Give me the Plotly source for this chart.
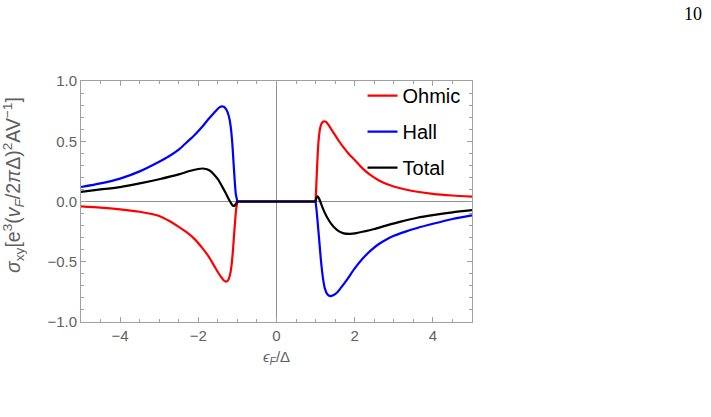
import plotly.graph_objects as go

# Ohmic (red)
ohm_left_x = [-5.0, -4.5, -4.0, -3.5, -3.0, -2.75, -2.5, -2.3, -2.1, -1.9, -1.75, -1.6, -1.5, -1.42, -1.35, -1.29, -1.24, -1.19, -1.15, -1.12, -1.09, -1.06, -1.03, -1.0]
ohm_left_y = [-0.04, -0.05, -0.065, -0.085, -0.12, -0.16, -0.21, -0.255, -0.31, -0.385, -0.45, -0.53, -0.585, -0.625, -0.655, -0.665, -0.655, -0.61, -0.53, -0.43, -0.3, -0.17, -0.06, 0.0]
ohm_right_x = [1.0, 1.02, 1.05, 1.08, 1.12, 1.17, 1.22, 1.27, 1.33, 1.42, 1.5, 1.6, 1.7, 1.85, 2.0, 2.2, 2.4, 2.6, 2.8, 3.0, 3.3, 3.6, 4.0, 4.5, 5.0]
ohm_right_y = [0.0, 0.15, 0.37, 0.52, 0.615, 0.655, 0.665, 0.66, 0.635, 0.59, 0.55, 0.5, 0.455, 0.395, 0.345, 0.275, 0.22, 0.178, 0.147, 0.125, 0.1, 0.081, 0.064, 0.05, 0.04]

# Hall (blue)
hall_left_x = [-5.0, -4.5, -4.0, -3.5, -3.0, -2.75, -2.5, -2.3, -2.1, -1.9, -1.75, -1.6, -1.5, -1.45, -1.4, -1.35, -1.3, -1.25, -1.2, -1.16, -1.13, -1.10, -1.07, -1.04, -1.0]
hall_left_y = [0.12, 0.15, 0.19, 0.25, 0.33, 0.375, 0.43, 0.49, 0.55, 0.62, 0.68, 0.735, 0.77, 0.783, 0.79, 0.787, 0.77, 0.74, 0.68, 0.59, 0.48, 0.33, 0.18, 0.06, 0.0]
hall_right_x = [1.0, 1.03, 1.06, 1.1, 1.14, 1.19, 1.24, 1.3, 1.37, 1.45, 1.55, 1.65, 1.8, 2.0, 2.2, 2.4, 2.6, 2.8, 3.0, 3.3, 3.6, 4.0, 4.5, 5.0]
hall_right_y = [0.0, -0.09, -0.2, -0.35, -0.5, -0.64, -0.725, -0.77, -0.785, -0.778, -0.755, -0.715, -0.65, -0.555, -0.475, -0.41, -0.357, -0.317, -0.285, -0.25, -0.22, -0.185, -0.145, -0.115]

# Total (black)
tot_left_x = [-5.0, -4.5, -4.0, -3.5, -3.0, -2.5, -2.2, -2.0, -1.9, -1.8, -1.7, -1.6, -1.5, -1.4, -1.3, -1.23, -1.17, -1.12, -1.08, -1.04, -1.0]
tot_left_y = [0.08, 0.10, 0.12, 0.15, 0.185, 0.225, 0.255, 0.27, 0.274, 0.27, 0.255, 0.225, 0.185, 0.13, 0.07, 0.025, -0.01, -0.033, -0.036, -0.02, 0.0]
tot_right_x = [1.0, 1.02, 1.05, 1.08, 1.12, 1.17, 1.23, 1.3, 1.4, 1.5, 1.6, 1.72, 1.88, 2.05, 2.25, 2.5, 2.8, 3.2, 3.6, 4.0, 4.5, 5.0]
tot_right_y = [0.0, 0.03, 0.043, 0.03, 0.0, -0.045, -0.09, -0.135, -0.185, -0.222, -0.248, -0.264, -0.268, -0.262, -0.248, -0.228, -0.2, -0.165, -0.135, -0.113, -0.09, -0.072]

# gap segment between -1 and 1 (all curves vanish)
gap_x = [-1.0, 1.0]
gap_y = [0.0, 0.0]

series = [
    ("Ohmic", "#ff0000", ohm_left_x, ohm_left_y, ohm_right_x, ohm_right_y),
    ("Hall", "#0000ff", hall_left_x, hall_left_y, hall_right_x, hall_right_y),
    ("Total", "#000000", tot_left_x, tot_left_y, tot_right_x, tot_right_y),
]

fig = go.Figure()
for name, color, lx, ly, rx, ry in series:
    xs = lx + [None] + gap_x + [None] + rx
    ys = ly + [None] + gap_y + [None] + ry
    fig.add_trace(go.Scatter(
        x=xs, y=ys, mode="lines", name=name, legendgroup=name,
        connectgaps=False,
        line=dict(color=color, width=2.2, shape="spline", smoothing=0.7),
    ))

gray_font = dict(family="Liberation Sans, Arial, sans-serif", size=15, color="#5f5f5f")

axis_common = dict(
    showline=True, linecolor="#a0a0a0", linewidth=1, mirror="ticks",
    ticks="inside", tickcolor="#a0a0a0", ticklen=5, tickwidth=1,
    showgrid=False, zeroline=True, zerolinecolor="#909090", zerolinewidth=1,
    tickfont=gray_font,
)

fig.update_xaxes(
    range=[-5, 5], tickvals=[-4, -2, 0, 2, 4], ticktext=["\u22124", "\u22122", "0", "2", "4"],
    minor=dict(ticks="inside", dtick=0.5, ticklen=3, tickcolor="#a0a0a0", showgrid=False),
    title=dict(text="<i>\u03f5<sub>F</sub></i>/\u0394", standoff=8, font=gray_font),
    **axis_common,
)
fig.update_yaxes(
    range=[-1, 1], tickvals=[-1, -0.5, 0, 0.5, 1], ticktext=["\u22121.0", "\u22120.5", "0.0", "0.5", "1.0"],
    minor=dict(ticks="inside", dtick=0.1, ticklen=3, tickcolor="#a0a0a0", showgrid=False),
    **axis_common,
)

# y-axis title placed as a rotated annotation (sits slightly above axis centre)
fig.add_annotation(
    text="<i>\u03c3</i><sub>xy</sub>[e<sup>3</sup>(<i>v</i><sub><i>F</i></sub>/2<i>\u03c0</i>\u0394)<sup>2</sup>AV<sup>\u22121</sup>]",
    xref="paper", yref="paper", x=(13 - 81) / 391, y=(322 - 185) / 241,
    textangle=-90, showarrow=False, xanchor="center", yanchor="middle",
    font=dict(family="Liberation Sans, Arial, sans-serif", size=19.5, color="#5f5f5f"),
)

fig.add_annotation(
    text="10", xref="paper", yref="paper", x=(693 - 81) / 391, y=(322 - 14) / 241,
    showarrow=False, xanchor="center", yanchor="middle",
    font=dict(family="Liberation Serif, Times New Roman, serif", size=18, color="#000000"),
)

fig.update_layout(
    width=711, height=417,
    margin=dict(l=81, r=239, t=81, b=95),
    paper_bgcolor="white", plot_bgcolor="white",
    showlegend=True,
    legend=dict(
        x=0.72, y=1.02, xanchor="left", yanchor="top",
        bgcolor="rgba(0,0,0,0)", tracegroupgap=7, traceorder="grouped",
        font=dict(family="Liberation Sans, Arial, sans-serif", size=20, color="#000000"),
    ),
)

fig.write_html("out.html")
